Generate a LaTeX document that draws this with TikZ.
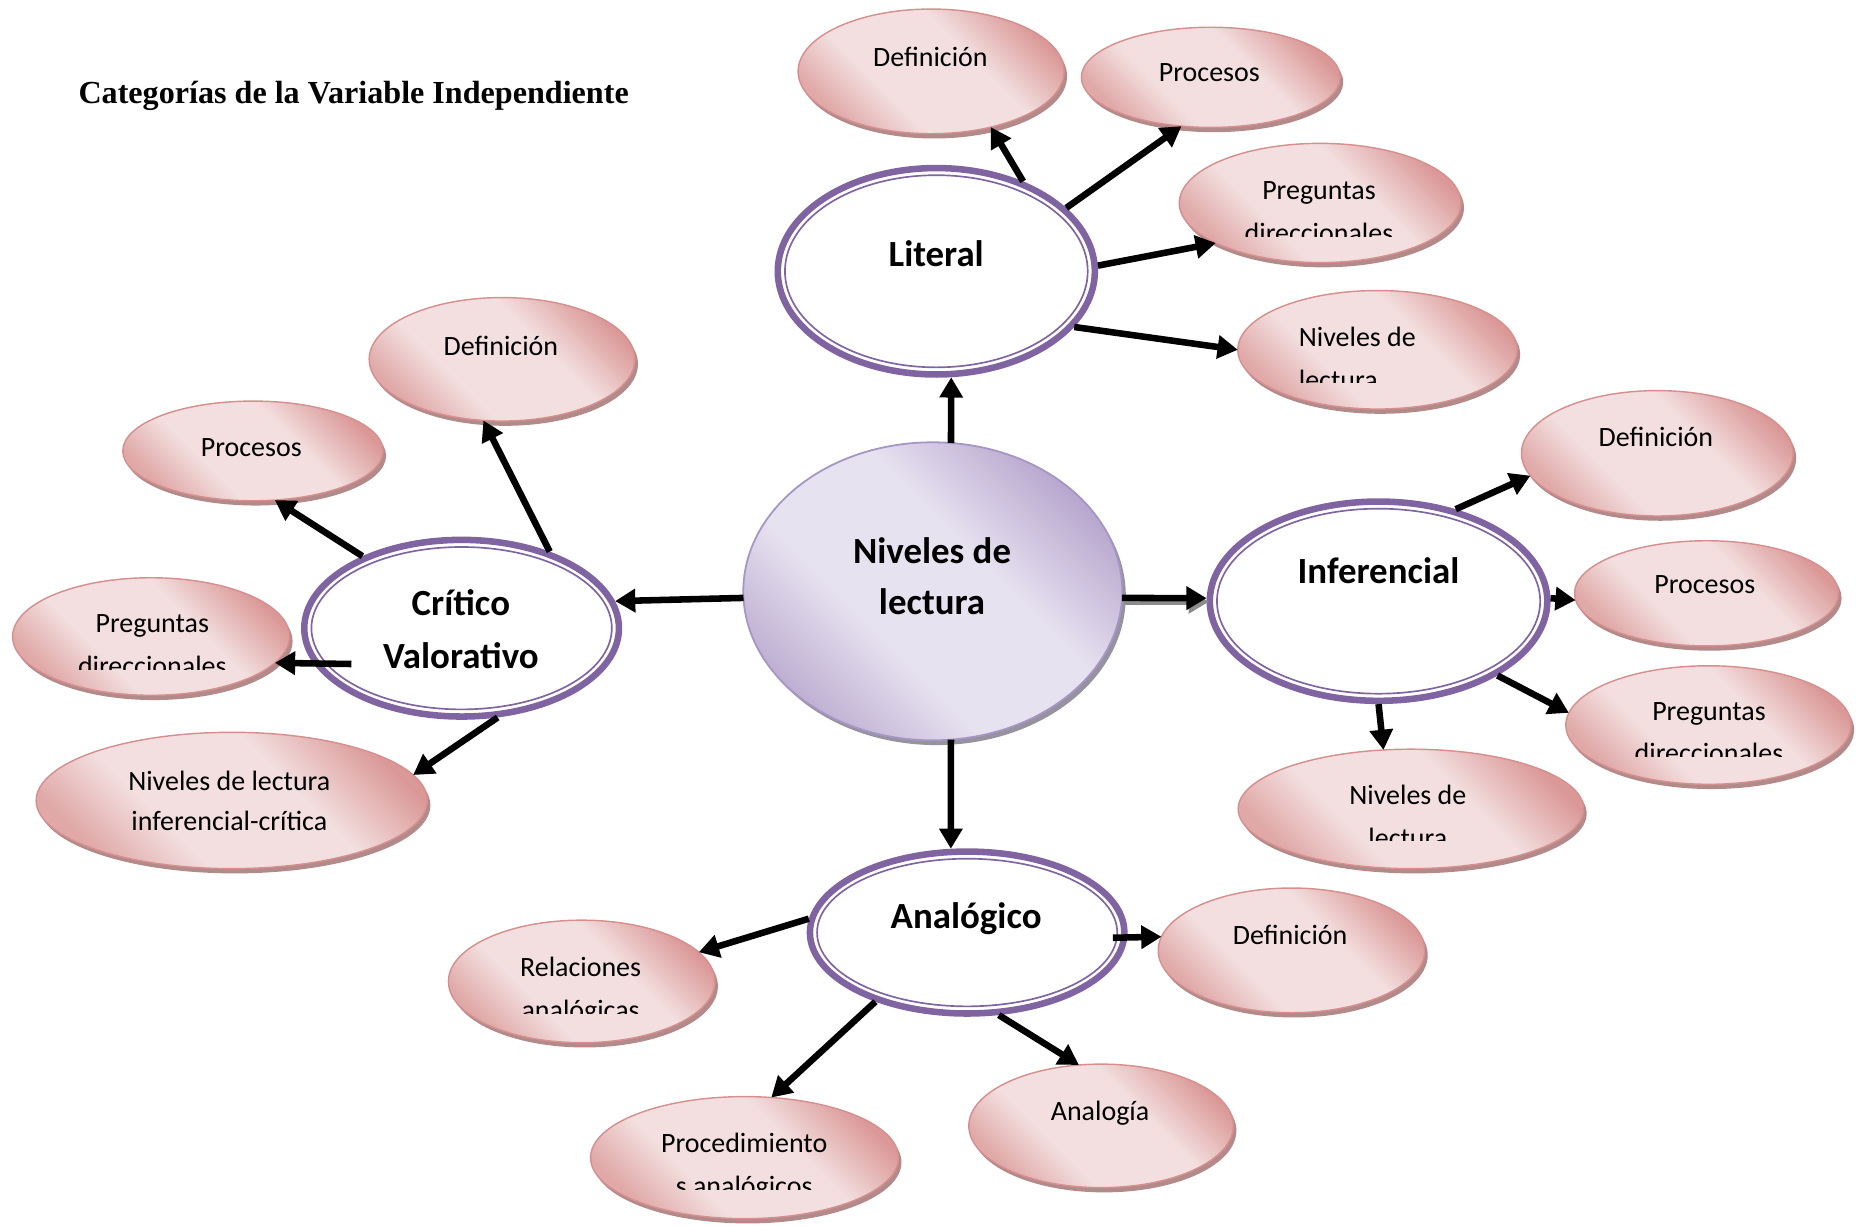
\documentclass[tikz,border=0pt]{standalone}
\usepackage{fontspec}
\setmainfont{Carlito}
\newfontfamily\titlefont{Liberation Serif}
\usetikzlibrary{shapes.geometric,arrows.meta,shadows}
\definecolor{pkdark}{RGB}{218,152,151}
\definecolor{pklight}{RGB}{243,223,223}
\definecolor{pkborder}{RGB}{214,143,142}
\definecolor{pkshadow}{RGB}{178,138,138}
\definecolor{lvdark}{RGB}{184,167,206}
\definecolor{lvlight}{RGB}{231,226,240}
\definecolor{lvborder}{RGB}{165,150,198}
\definecolor{lvshadow}{RGB}{150,146,158}
\definecolor{ringc}{RGB}{128,100,162}
\pgfdeclarehorizontalshading{pkshade}{100bp}{color(0bp)=(pkdark); color(25bp)=(pkdark!75!pklight); color(38bp)=(pklight); color(60bp)=(pklight); color(76bp)=(pkdark); color(100bp)=(pkdark)}
\pgfdeclarehorizontalshading{lvshade}{100bp}{color(0bp)=(lvdark); color(25bp)=(lvdark!85!lvlight); color(40bp)=(lvlight); color(58bp)=(lvlight); color(75bp)=(lvdark); color(100bp)=(lvdark)}
\tikzset{
  pk/.style={ellipse, draw=pkborder, line width=1.2pt, shade, shading=pkshade, shading angle=45,
    inner sep=0pt, outer sep=0pt,
    drop shadow={shadow xshift=2.5pt, shadow yshift=-4pt, fill=pkshadow, opacity=1}},
  lv/.style={ellipse, draw=lvborder, line width=1.5pt, shade, shading=lvshade, shading angle=45,
    inner sep=0pt, outer sep=0pt,
    drop shadow={shadow xshift=3pt, shadow yshift=-4pt, fill=lvshadow, opacity=1}},
  ring/.style={ellipse, draw=ringc, line width=5.5pt, fill=white, inner sep=0pt, outer sep=2.75pt},
  ringin/.style={ellipse, draw=ringc, line width=1.4pt, inner sep=0pt, outer sep=0pt},
  tx/.style={font=\fontsize{23.5}{28}\selectfont, inner sep=0pt, anchor=base},
  bx/.style={font=\bfseries\fontsize{31}{36}\selectfont, inner sep=0pt, anchor=base},
  arr/.style={line width=5.5pt, -{Triangle[length=17pt,width=19pt]}},
}
\begin{document}
\begin{tikzpicture}[x=1pt, y=-1pt]
\useasboundingbox (0,0) rectangle (1560,1031.3);

\node[anchor=base west, inner sep=0pt, font=\titlefont\bfseries\fontsize{27}{32}\selectfont] (title) at (65.8,86.9) {Categorías de la Variable Independiente};

% central
\node[lv, minimum width=318.5pt, minimum height=250.5pt] (c) at (784,497) {};

% rings
\node[ring, minimum width=266.5pt, minimum height=173.5pt] (lit) at (787,228) {};
\node[ringin, minimum width=254.5pt, minimum height=161.5pt] (litin) at (lit.center) {};
\node[ring, minimum width=264.5pt, minimum height=148.5pt] (cri) at (388,528) {};
\node[ringin, minimum width=252.5pt, minimum height=136.5pt] (criin) at (cri.center) {};
\node[ring, minimum width=283.7pt, minimum height=167.5pt] (inf) at (1158.7,505.3) {};
\node[ringin, minimum width=271.7pt, minimum height=155.5pt] (infin) at (inf.center) {};
\node[ring, minimum width=264.3pt, minimum height=136.1pt] (ana) at (812.9,783.8) {};
\node[ringin, minimum width=252.3pt, minimum height=124.1pt] (anain) at (ana.center) {};

% pink ellipses
\node[pk, minimum width=223.6pt, minimum height=104.8pt] (ldef) at (782.6,60) {};
\node[pk, minimum width=217.6pt, minimum height=84.2pt] (lproc) at (1017.7,65) {};
\node[pk, minimum width=236.8pt, minimum height=100.2pt] (lpreg) at (1109.6,170.6) {};
\node[pk, minimum width=234.8pt, minimum height=99.6pt] (lniv) at (1157.8,294) {};

\node[pk, minimum width=223.4pt, minimum height=103.8pt] (kdef) at (422,302) {};
\node[pk, minimum width=218.8pt, minimum height=83.8pt] (kproc) at (212.6,379) {};
\node[pk, minimum width=232.8pt, minimum height=98.8pt] (kpreg) at (127,535) {};
\node[pk, minimum width=328.8pt, minimum height=114.6pt] (kniv) at (194.8,672.8) {};

\node[pk, minimum width=228.4pt, minimum height=105.4pt] (idef) at (1393,381) {};
\node[pk, minimum width=222pt, minimum height=88.4pt] (iproc) at (1434.4,498.7) {};
\node[pk, minimum width=239.8pt, minimum height=99.6pt] (ipreg) at (1436,609.4) {};
\node[pk, minimum width=290.4pt, minimum height=100.4pt] (iniv) at (1185.9,679.9) {};

\node[pk, minimum width=224pt, minimum height=103pt] (arel) at (488.9,824.9) {};
\node[pk, minimum width=224pt, minimum height=104.8pt] (adef) at (1085.5,798.8) {};
\node[pk, minimum width=258.8pt, minimum height=102.6pt] (aproc) at (625.8,973) {};
\node[pk, minimum width=222.4pt, minimum height=103.8pt] (aana) at (925.5,946.3) {};

% free starts inside rings
\coordinate (ks) at (295.4,558.1);
\coordinate (as) at (935.4,788.2);

% arrows
\draw[arr] (c.83.2) -- (lit.-82);
\draw[arr] (lit.46) -- (ldef.-43);
\draw[arr] (lit.26.6) -- (lproc.-121.4);
\draw[arr] (lit.2.3) -- (lpreg.-159.6);
\draw[arr] (lit.-22.4) -- (lniv.180);

\draw[arr] (c.182.1) -- (cri.10.8);
\draw[arr] (cri.41.1) -- (kdef.-107.5);
\draw[arr] (cri.144.6) -- (kproc.-66.8);
\draw[arr] (ks) -- (kpreg.-12.4);
\draw[arr] (cri.-68.2) -- (kniv.8.4);

\draw[arr, draw=black!45, transform canvas={shift={(2pt,-3pt)}}] (c.-2.1) -- (inf.179);
\draw[arr] (c.-2.1) -- (inf.179);
\draw[arr] (inf.50.6) -- (idef.-170.5);
\draw[arr] (inf.1) -- (iproc.-177.6);
\draw[arr] (inf.-32.5) -- (ipreg.175.3);
\draw[arr] (inf.-90) -- (iniv.115.6);

\draw[arr] (c.-83.2) -- (ana.101.3);
\draw[arr] (ana.175) -- (arel.14.6);
\draw[arr] (as) -- (adef.174.4);
\draw[arr] (ana.-143.6) -- (aproc.66.9);
\draw[arr] (ana.-69.2) -- (aana.110.3);

% bold labels
\node[bx] (tc1) at (783.4,473.5) {Niveles de};
\node[bx] (tc2) at (783.4,516.5) {lectura};
\node[bx] (tlit) at (786.9,224.2) {Literal};
\node[bx] (tcri1) at (387.4,517) {Crítico};
\node[bx] (tcri2) at (387.4,561.8) {Valorativo};
\node[bx] (tinf) at (1158.6,490.3) {Inferencial};
\node[bx] (tana) at (812,780.3) {Analógico};

% pink labels
\node[tx] (tldef) at (782,56) {Definición};
\node[tx] (tlproc) at (1016.5,68.7) {Procesos};
\node[tx] (tlpreg1) at (1108.6,168) {Preguntas};
\begin{scope}
\clip (990,178) rectangle (1230,198.5);
\node[tx] (tlpreg2) at (1108.6,204) {direccionales};
\end{scope}
\node[tx, anchor=base west] (tlniv1) at (1091.5,291.4) {Niveles de};
\begin{scope}
\clip (1080,302) rectangle (1270,321.9);
\node[tx, anchor=base west] (tlniv2) at (1091.5,327.4) {lectura};
\end{scope}

\node[tx] (tkdef) at (421,298.4) {Definición};
\node[tx] (tkproc) at (211.2,383.3) {Procesos};
\node[tx] (tkpreg1) at (128,531.8) {Preguntas};
\begin{scope}
\clip (10,542) rectangle (246,562.3);
\node[tx] (tkpreg2) at (128,567.8) {direccionales};
\end{scope}
\node[tx] (tkniv1) at (192.7,664.6) {Niveles de lectura};
\node[tx] (tkniv2) at (192.7,697.7) {inferencial-crítica};

\node[tx] (tidef) at (1391.8,375.4) {Definición};
\node[tx] (tiproc) at (1432.9,498.7) {Procesos};
\node[tx] (tipreg1) at (1436.4,605.2) {Preguntas};
\begin{scope}
\clip (1316,615) rectangle (1556,635.7);
\node[tx] (tipreg2) at (1436.4,641.2) {direccionales};
\end{scope}
\node[tx] (tiniv1) at (1183.3,676) {Niveles de};
\begin{scope}
\clip (1041,686) rectangle (1330,706.5);
\node[tx] (tiniv2) at (1183.3,712) {lectura};
\end{scope}

\node[tx] (tarel1) at (488,821) {Relaciones};
\begin{scope}
\clip (378,831) rectangle (600,851.5);
\node[tx] (tarel2) at (488,857) {analógicas};
\end{scope}
\node[tx] (tadef) at (1084.4,793.5) {Definición};
\node[tx] (taproc1) at (625.5,969) {Procedimiento};
\begin{scope}
\clip (497,979) rectangle (755,999.5);
\node[tx] (taproc2) at (625.5,1005) {s analógicos};
\end{scope}
\node[tx] (taana) at (924.6,941.4) {Analogía};

\end{tikzpicture}
\end{document}
